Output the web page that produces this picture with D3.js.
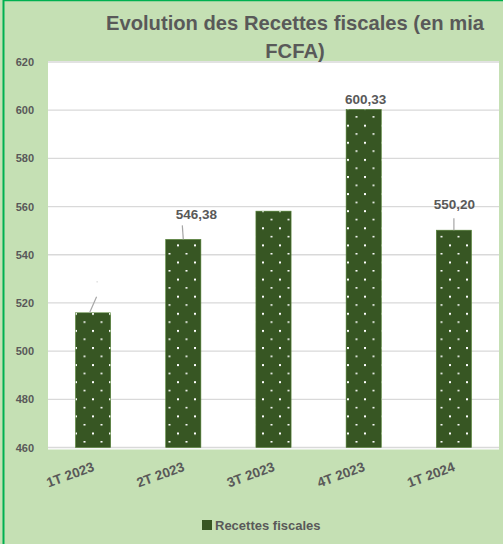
<!DOCTYPE html>
<html>
<head>
<meta charset="utf-8">
<script src="https://cdn.jsdelivr.net/npm/d3@7"></script>
<style>
  html, body { margin: 0; padding: 0; background: #c5e0b4; overflow: hidden; }
  svg { display: block; }
  text { font-family: "Liberation Sans", Arial, sans-serif; font-weight: bold; fill: #595959; }
</style>
</head>
<body>
<svg id="chart"></svg>
<script>
const categories = ["1T 2023", "2T 2023", "3T 2023", "4T 2023", "1T 2024"];
const recettes = [515.9, 546.38, 558.1, 600.33, 550.20];
// null = étiquette masquée dans l'original
const labels = [null, "546,38", null, "600,33", "550,20"];
const yTicks = [460, 480, 500, 520, 540, 560, 580, 600, 620];

const width = 503, height = 544;
const plot = { left: 48, right: 499, top: 62, bottom: 447.5 };

const svg = d3.select("#chart")
    .attr("width", width)
    .attr("height", height);

svg.append("rect")
    .attr("width", width).attr("height", height)
    .attr("fill", "#c5e0b4");

// motif pointillé des barres
const defs = svg.append("defs");
const pat = defs.append("pattern")
    .attr("id", "dots")
    .attr("patternUnits", "userSpaceOnUse")
    .attr("width", 17).attr("height", 17.1)
    .attr("x", 7).attr("y", 5);
pat.append("rect").attr("width", 17).attr("height", 17.1).attr("fill", "#375623");
pat.append("rect").attr("x", 0).attr("y", 0).attr("width", 2).attr("height", 2).attr("fill", "#ffffff");
pat.append("rect").attr("x", 8.5).attr("y", 8.55).attr("width", 2).attr("height", 1.5).attr("fill", "#ffffff");

// zone de tracé
svg.append("rect")
    .attr("x", plot.left).attr("y", plot.top - 1)
    .attr("width", plot.right - plot.left).attr("height", plot.bottom - plot.top + 3)
    .attr("fill", "#ffffff");

const x = d3.scaleBand()
    .domain(categories)
    .range([plot.left, plot.right])
    .paddingInner(0.61)
    .paddingOuter(0.305);

const y = d3.scaleLinear()
    .domain([460, 620])
    .range([plot.bottom, plot.top]);

// grille
svg.append("g")
    .selectAll("line")
    .data(yTicks)
    .join("line")
    .attr("x1", plot.left).attr("x2", plot.right)
    .attr("y1", d => y(d)).attr("y2", d => y(d))
    .attr("stroke", "#d9d9d9")
    .attr("stroke-width", 1.3);

// axe Y
const yAxis = svg.append("g")
    .attr("transform", "translate(34,0)")
    .call(d3.axisLeft(y).tickValues(yTicks).tickSize(0).tickPadding(0));
yAxis.select(".domain").remove();
yAxis.selectAll("text")
    .attr("font-size", 11)
    .attr("font-family", "Liberation Sans, Arial, sans-serif")
    .attr("font-weight", "bold")
    .attr("fill", "#595959");

// barres
svg.append("g")
    .selectAll("rect")
    .data(recettes)
    .join("rect")
    .attr("x", (d, i) => x(categories[i]))
    .attr("y", d => y(d))
    .attr("width", x.bandwidth())
    .attr("height", d => y(460) - y(d))
    .attr("fill", "url(#dots)")
    .attr("stroke", "#548235")
    .attr("stroke-width", 0.6);

// lignes de rappel
const leaders = [
    { i: 0, dx1: -3.5, dx2: 3.5, len: 16 },
    { i: 1, dx1: 0, dx2: -1, len: 14 },
    { i: 4, dx1: 0, dx2: 0, len: 12 }
];
svg.append("g")
    .selectAll("line")
    .data(leaders)
    .join("line")
    .attr("x1", d => x(categories[d.i]) + x.bandwidth() / 2 + d.dx1)
    .attr("x2", d => x(categories[d.i]) + x.bandwidth() / 2 + d.dx2)
    .attr("y1", d => y(recettes[d.i]))
    .attr("y2", d => y(recettes[d.i]) - d.len)
    .attr("stroke", "#a6a6a6")
    .attr("stroke-width", 1.2);
svg.append("circle")
    .attr("cx", x(categories[0]) + x.bandwidth() / 2 + 4)
    .attr("cy", y(recettes[0]) - 31)
    .attr("r", 0.6)
    .attr("fill", "#bfbfbf");

// étiquettes de valeurs
const labelOffsets = [null, { dx: 13, dy: -20 }, null, { dx: 2, dy: -5 }, { dx: 0.5, dy: -21 }];
svg.append("g")
    .selectAll("text")
    .data(recettes.map((v, i) => ({ v, i })).filter(d => labels[d.i]))
    .join("text")
    .attr("x", d => x(categories[d.i]) + x.bandwidth() / 2 + labelOffsets[d.i].dx)
    .attr("y", d => y(d.v) + labelOffsets[d.i].dy)
    .attr("text-anchor", "middle")
    .attr("font-size", 13.5)
    .attr("fill", "#404040")
    .text(d => labels[d.i]);

// axe X (étiquettes inclinées)
svg.append("g")
    .selectAll("text")
    .data(categories)
    .join("text")
    .attr("transform", d => `translate(${x(d) + x.bandwidth() / 2 + 2},${plot.bottom + 23}) rotate(-20)`)
    .attr("text-anchor", "end")
    .attr("font-size", 13.5)
    .text(d => d);

// titre
svg.append("text")
    .attr("x", 295).attr("y", 30)
    .attr("text-anchor", "middle")
    .attr("font-size", 20.2)
    .text("Evolution des Recettes fiscales (en mia");
svg.append("text")
    .attr("x", 295).attr("y", 58)
    .attr("text-anchor", "middle")
    .attr("font-size", 20.2)
    .text("FCFA)");

// légende
const legend = svg.append("g").attr("transform", "translate(202,520)");
legend.append("rect")
    .attr("width", 10).attr("height", 10)
    .attr("fill", "#375623");
legend.append("text")
    .attr("x", 13).attr("y", 10)
    .attr("font-size", 13)
    .text("Recettes fiscales");

// bordure (gauche et haut)
svg.append("line")
    .attr("x1", 3.5).attr("x2", 3.5).attr("y1", 0).attr("y2", height)
    .attr("stroke", "#00b050").attr("stroke-width", 2);
svg.append("line")
    .attr("x1", 3).attr("x2", width).attr("y1", 0.5).attr("y2", 0.5)
    .attr("stroke", "#00b050").attr("stroke-width", 1.5);
</script>
</body>
</html>
